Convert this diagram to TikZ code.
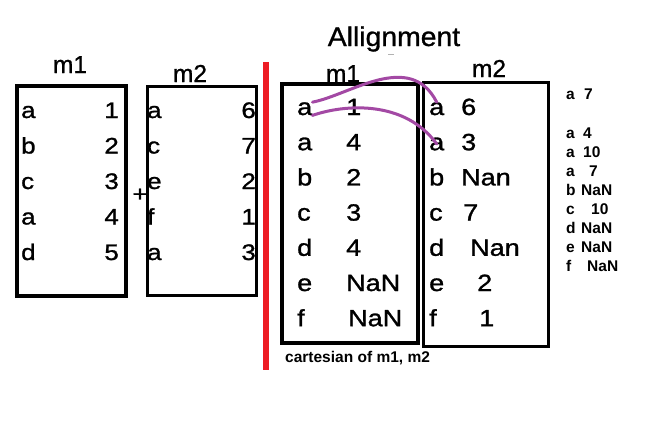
\documentclass[tikz,border=0pt]{standalone}
\usepackage{fontspec}
\setmainfont{Liberation Sans}
\newfontfamily\cellfont[FakeStretch=1.15,FakeBold=1.2]{Liberation Sans}
\newfontfamily\headfont[FakeBold=1]{Liberation Sans}
\usepackage{tikz}

\definecolor{barred}{RGB}{237,28,36}
\definecolor{linkpurple}{RGB}{163,73,164}

\tikzset{
  frame/.style={draw=black,line width=3.5pt},
  thinframe/.style={draw=black,line width=3pt},
  cell/.style={inner sep=0pt,font=\cellfont\fontsize{22.5}{22.5}\selectfont},
  bigcell/.style={inner sep=0pt,font=\cellfont\fontsize{23.5}{23.5}\selectfont},
  head/.style={inner sep=0pt,anchor=base,font=\headfont\fontsize{24.5}{24.5}\selectfont},
  note/.style={inner sep=0pt,anchor=base west,font=\fontsize{15.5}{15.5}\selectfont\bfseries},
  link/.style={draw=linkpurple,line width=3pt,line cap=round},
}

\begin{document}
\begin{tikzpicture}[x=1pt,y=-1pt]
        \useasboundingbox[fill=white] (0,0) rectangle (647,421);

        % left side: the two inputs
        \draw[frame] (17,86) rectangle (126,296);
        \draw[thinframe] (147,86) rectangle (256,295);
        \node[head] (lhead1) at (70,73) {m1};
        \node[head] (lhead2) at (190,82) {m2};
        \foreach \k/\v [count=\i] in {a/1,b/2,c/3,a/4,d/5} {
                \node[cell,anchor=base west] (l1k\i) at (21,118+35.5*\i-35.5) {\k};
                \node[cell,anchor=base east] (l1v\i) at (119,118+35.5*\i-35.5) {\v};
        }
        \foreach \k/\v [count=\i] in {a/6,c/7,e/2,f/1,a/3} {
                \node[cell,anchor=base west] (l2k\i) at (147,118+35.5*\i-35.5) {\k};
                \node[cell,anchor=base east] (l2v\i) at (256,118+35.5*\i-35.5) {\v};
        }
        \node[cell,font=\cellfont\fontsize{22}{22}\selectfont] (plus) at (140,195) {+};

        % divider
        \draw[barred,line width=5.5pt] (266,62) -- (266,370);

        % right side: the aligned result
        \node[inner sep=0pt,anchor=base,font=\headfont\fontsize{27}{27}\selectfont,xscale=1.05] (title) at (394,46) {Allignment};
        \draw[gray!60,line width=1pt] (388,54) -- (394,54);
        \draw[frame] (282,84) rectangle (418,343);
        \draw[thinframe] (423,82) rectangle (548,346);
        \node[head] (rhead1) at (343,82) {m1};
        \node[head] (rhead2) at (489,77) {m2};
        \foreach \k/\v/\x [count=\i] in {a/1/346,a/4/346,b/2/346,c/3/346,d/4/346,e/NaN/346,f/NaN/348} {
                \node[bigcell,anchor=base west] (r1k\i) at (297,115+35.2*\i-35.2) {\k};
                \node[bigcell,anchor=base west] (r1v\i) at (\x,115+35.2*\i-35.2) {\v};
        }
        \foreach \k/\v/\x [count=\i] in {a/6/461,a/3/461,b/Nan/461,c/7/463,d/Nan/470,e/2/477,f/1/479} {
                \node[bigcell,anchor=base west] (r2k\i) at (429,115+35.2*\i-35.2) {\k};
                \node[bigcell,anchor=base west] (r2v\i) at (\x,115+35.2*\i-35.2) {\v};
        }
        \draw[link] (r1k1.north east) .. controls (350,95) and (410,50) .. (r2k1.north);
        \draw[link] (r1k1.south east) .. controls (345,104) and (405,100) .. (r2k2.center);
        \node[note] (cart) at (285,362) {cartesian of m1, m2};

        % notes at the right
        \node[note] (sk0) at (566,99) {a};
        \node[note] (sv0) at (584,99) {7};
        \foreach \k/\v/\x [count=\i] in {a/4/583,a/10/583,a/7/589,b/NaN/581,c/10/591,d/NaN/581,e/NaN/581,f/NaN/587} {
                \node[note] (sk\i) at (566,138+19*\i-19) {\k};
                \node[note] (sv\i) at (\x,138+19*\i-19) {\v};
        }
\end{tikzpicture}
\end{document}
